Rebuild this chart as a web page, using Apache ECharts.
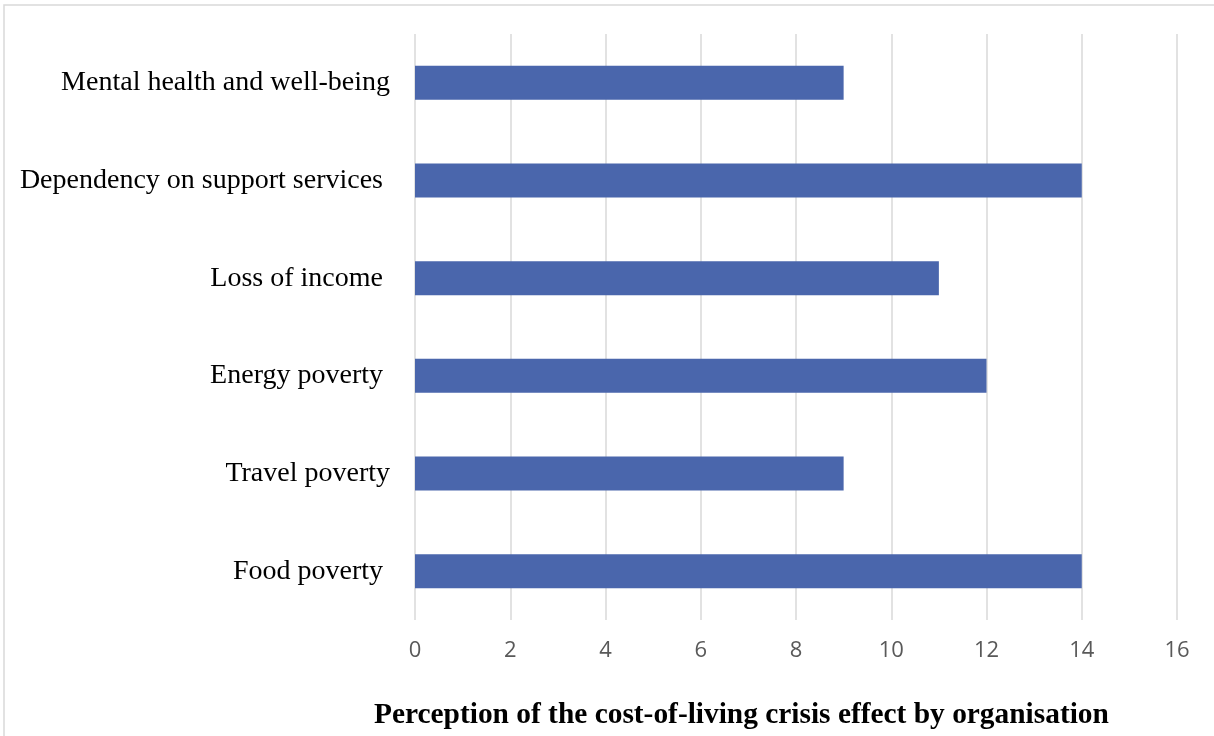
<!DOCTYPE html>
<html>
<head>
<meta charset="utf-8">
<script src="https://cdn.jsdelivr.net/npm/echarts@6/dist/echarts.min.js"></script>
<style>
  html, body { margin: 0; padding: 0; background: #ffffff; }
  #chart { width: 1214px; height: 736px; }
</style>
</head>
<body>
<div id="chart"></div>
<script>
// Categories listed top-to-bottom as in the reference
const categories = [
  'Mental health and well-being',
  'Dependency on support services ',
  'Loss of income ',
  'Energy poverty ',
  'Travel poverty',
  'Food poverty '
];
const values = [9, 14, 11, 12, 9, 14];
const xTicks = { min: 0, max: 16, interval: 2 };
const chartTitle = 'Perception of the cost-of-living crisis effect by organisation';

const chart = echarts.init(document.getElementById('chart'), null, { renderer: 'canvas' });
chart.setOption({
  backgroundColor: '#ffffff',
  animation: false,
  title: {
    text: chartTitle,
    left: 369,
    top: 696,
    textStyle: {
      fontFamily: 'Liberation Serif',
      fontWeight: 'bold',
      fontSize: 29.4,
      color: '#000000'
    }
  },
  graphic: [{
    type: 'rect',
    shape: { x: 4, y: 5, width: 1230, height: 760 },
    style: { fill: 'none', stroke: '#d9d9d9', lineWidth: 1.5 },
    silent: true
  }],
  grid: { left: 415, right: 37, top: 34, bottom: 116, containLabel: false },
  xAxis: {
    type: 'value',
    min: xTicks.min,
    max: xTicks.max,
    interval: xTicks.interval,
    axisLine: { show: false },
    axisTick: { show: false },
    splitLine: { show: true, lineStyle: { color: '#d9d9d9', width: 1.5 } },
    axisLabel: {
      margin: 20,
      fontFamily: 'Open Sans',
      fontSize: 22,
      color: '#595959'
    }
  },
  yAxis: {
    type: 'category',
    data: categories,
    inverse: true,
    axisLine: { show: false },
    axisTick: { show: false },
    splitLine: { show: false },
    axisLabel: {
      margin: 25,
      fontFamily: 'Liberation Serif',
      fontSize: 28,
      color: '#000000'
    }
  },
  series: [{
    type: 'bar',
    data: values,
    barWidth: 34,
    itemStyle: { color: '#4a66ac' },
    silent: true
  }]
});
</script>
</body>
</html>
